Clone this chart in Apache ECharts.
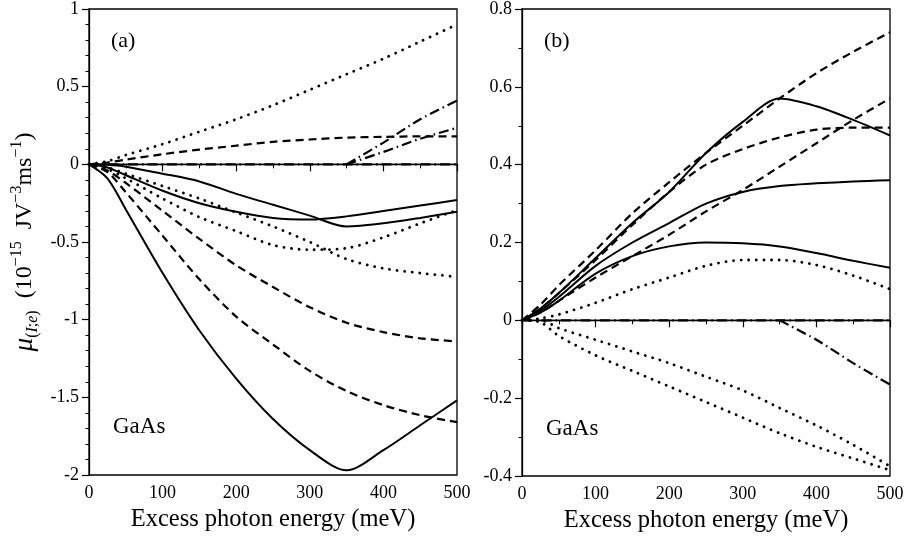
<!DOCTYPE html>
<html>
<head>
<meta charset="utf-8">
<script src="https://cdn.jsdelivr.net/npm/echarts@6/dist/echarts.min.js"></script>
<style>html,body{margin:0;padding:0;background:#fff}#c{width:907px;height:538px}</style>
</head>
<body>
<div id="c"></div>
<script>
// Excess photon energy (meV)
const energy = [0, 25, 50, 100, 150, 200, 250, 300, 350, 400, 450, 500];
const xTicks = [0, 100, 200, 300, 400, 500];
const yTicksA = [-2, -1.5, -1, -0.5, 0, 0.5, 1];
const yTicksB = [-0.4, -0.2, 0, 0.2, 0.4, 0.6, 0.8];

// Panel (a)
const aDotUp    = [0, 0.02, 0.06, 0.13, 0.21, 0.29, 0.38, 0.48, 0.58, 0.68, 0.79, 0.90];
const aDashUp   = [0, 0.012, 0.03, 0.065, 0.095, 0.12, 0.145, 0.16, 0.172, 0.177, 0.18, 0.18];
const aDashDot1 = [null, null, null, null, null, null, null, null, 0, 0.14, 0.29, 0.41];
const aDashDot2 = [null, null, null, null, null, null, null, null, 0, 0.08, 0.165, 0.235];
const aZero     = [0, 0, 0, 0, 0, 0, 0, 0, 0, 0, 0, 0];
const aSolid1   = [0, -0.003, -0.015, -0.06, -0.11, -0.19, -0.26, -0.33, -0.40, -0.38, -0.345, -0.305];
const aSolid2   = [0, -0.02, -0.07, -0.17, -0.25, -0.305, -0.345, -0.355, -0.335, -0.30, -0.265, -0.23];
const aDotP     = [0, -0.02, -0.06, -0.14, -0.22, -0.31, -0.40, -0.50, -0.61, -0.67, -0.70, -0.725];
const aDotQ     = [0, -0.03, -0.09, -0.22, -0.34, -0.43, -0.52, -0.55, -0.54, -0.47, -0.38, -0.295];
const aDash1    = [0, -0.04, -0.12, -0.30, -0.48, -0.65, -0.79, -0.92, -1.02, -1.08, -1.12, -1.14];
const aDash2    = [0, -0.05, -0.18, -0.46, -0.74, -0.98, -1.16, -1.33, -1.46, -1.55, -1.615, -1.66];
const aSolidBig = [0, -0.09, -0.29, -0.70, -1.07, -1.38, -1.64, -1.84, -1.97, -1.84, -1.68, -1.52];

// Panel (b)
const bDashTop   = [0, 0.04, 0.09, 0.18, 0.275, 0.355, 0.43, 0.50, 0.57, 0.635, 0.69, 0.74];
const bSolidPeak = [0, 0.03, 0.07, 0.16, 0.25, 0.33, 0.43, 0.51, 0.57, 0.55, 0.515, 0.475];
const bDashMid   = [0, 0.03, 0.07, 0.155, 0.245, 0.33, 0.40, 0.44, 0.47, 0.49, 0.495, 0.495];
const bDashLow   = [0, 0.02, 0.05, 0.11, 0.165, 0.22, 0.28, 0.335, 0.395, 0.455, 0.515, 0.57];
const bSolidFlat = [0, 0.025, 0.06, 0.14, 0.20, 0.25, 0.30, 0.33, 0.345, 0.352, 0.357, 0.36];
const bSolidLow  = [0, 0.02, 0.05, 0.12, 0.165, 0.19, 0.20, 0.198, 0.19, 0.173, 0.153, 0.135];
const bDot       = [0, 0.005, 0.015, 0.045, 0.08, 0.11, 0.14, 0.155, 0.155, 0.142, 0.115, 0.08];
const bZero      = [0, 0, 0, 0, 0, 0, 0, 0, 0, 0, 0, 0];
const bDashDot   = [null, null, null, null, null, null, null, null, 0, -0.05, -0.11, -0.165];
const bDotNeg1   = [0, 0, -0.02, -0.05, -0.08, -0.11, -0.145, -0.18, -0.225, -0.27, -0.32, -0.375];
const bDotNeg2   = [0, -0.005, -0.04, -0.09, -0.13, -0.17, -0.21, -0.25, -0.29, -0.325, -0.355, -0.385];

const FONT = 'Liberation Serif';
const STY = {
  solid:   { type: 'solid', width: 2 },
  thin:    { type: 'solid', width: 1.2 },
  dash:    { type: [8, 5], width: 2.2 },
  dot:     { type: [0.1, 7.5], width: 2.8, cap: 'round' },
  dashdot: { type: [10, 4, 1.5, 4], width: 2.2 }
};
function pts(ys) { return energy.map((x, i) => [x, ys[i] === null ? '-' : ys[i]]); }
function line(ys, style, idx) {
  return {
    type: 'line', xAxisIndex: idx, yAxisIndex: idx, data: pts(ys),
    symbol: 'none', smooth: 0.3, silent: true,
    lineStyle: Object.assign({ color: '#000' }, STY[style])
  };
}

function xAxisDef(idx) {
  return {
    gridIndex: idx, type: 'value', min: 0, max: 500, interval: 100,
    name: 'Excess photon energy (meV)', nameLocation: 'middle', nameGap: 25,
    nameTextStyle: { fontFamily: FONT, fontSize: 24.5, color: '#000' },
    axisLine: { lineStyle: { color: '#000', width: 1.3 } },
    axisTick: { inside: false, length: 7, lineStyle: { color: '#000', width: 1.2 } },
    minorTick: { show: true, splitNumber: 2, length: 4, lineStyle: { color: '#000', width: 1 } },
    splitLine: { show: false },
    axisLabel: { fontFamily: FONT, fontSize: 18, color: '#000', margin: 9,
      formatter: v => (xTicks.indexOf(v) >= 0 ? String(v) : '') }
  };
}
function yAxisDef(idx, min, max, interval, minorSplit, ticks) {
  return {
    gridIndex: idx, type: 'value', min: min, max: max, interval: interval,
    axisLine: { onZero: false, lineStyle: { color: '#000', width: 1.3 } },
    axisTick: { inside: false, length: 7, lineStyle: { color: '#000', width: 1.2 } },
    minorTick: { show: true, splitNumber: minorSplit, length: 3.5, lineStyle: { color: '#000', width: 1 } },
    splitLine: { show: false },
    axisLabel: { fontFamily: FONT, fontSize: 18, color: '#000', margin: 10,
      formatter: v => { const t = ticks.find(k => Math.abs(k - v) < 1e-9); return t === undefined ? '' : String(t); } }
  };
}

const yA = yAxisDef(0, -2, 1, 0.5, 5, yTicksA);
yA.name = '{mu|μ}{sub|(}{subi|I}{sub|;}{subi|e}{sub|)}{n|  (10}{sup|−15}{n|  JV}{sup|−3}{n|ms}{sup|−1}{n|)}';
yA.nameLocation = 'middle';
yA.nameRotate = 90;
yA.nameGap = 48;
yA.nameTextStyle = {
  fontFamily: FONT, color: '#000',
  rich: {
    mu:  { fontFamily: FONT, fontSize: 27, fontStyle: 'italic', lineHeight: 32, color: '#000' },
    n:   { fontFamily: FONT, fontSize: 24, lineHeight: 32, color: '#000' },
    sub: { fontFamily: FONT, fontSize: 16, lineHeight: 32, verticalAlign: 'bottom', color: '#000', padding: [9, 0, 0, 0] },
    subi:{ fontFamily: FONT, fontSize: 16, fontStyle: 'italic', lineHeight: 32, verticalAlign: 'bottom', color: '#000', padding: [9, 0, 0, 0] },
    sup: { fontFamily: FONT, fontSize: 16, lineHeight: 16, verticalAlign: 'top', color: '#000' }
  }
};
const yB = yAxisDef(1, -0.4, 0.8, 0.2, 2, yTicksB);

const option = {
  animation: false,
  backgroundColor: '#fff',
  grid: [
    { left: 89, top: 8, width: 368, height: 467, show: true, borderColor: '#000', borderWidth: 1.3 },
    { left: 522, top: 8, width: 368, height: 468, show: true, borderColor: '#000', borderWidth: 1.3 }
  ],
  xAxis: [xAxisDef(0), xAxisDef(1)],
  yAxis: [yA, yB],
  graphic: [
    { type: 'text', left: 111, top: 30, style: { text: '(a)', font: '22px "Liberation Serif"', fill: '#000' } },
    { type: 'text', left: 544, top: 30, style: { text: '(b)', font: '22px "Liberation Serif"', fill: '#000' } },
    { type: 'text', left: 113, top: 415, style: { text: 'GaAs', font: '23px "Liberation Serif"', fill: '#000' } },
    { type: 'text', left: 546, top: 417, style: { text: 'GaAs', font: '23px "Liberation Serif"', fill: '#000' } }
  ],
  series: [
    line(aZero, 'thin', 0),
    line(aZero, 'dashdot', 0),
    line(aDotUp, 'dot', 0),
    line(aDashUp, 'dash', 0),
    line(aDashDot1, 'dashdot', 0),
    line(aDashDot2, 'dashdot', 0),
    line(aSolid1, 'solid', 0),
    line(aSolid2, 'solid', 0),
    line(aDotP, 'dot', 0),
    line(aDotQ, 'dot', 0),
    line(aDash1, 'dash', 0),
    line(aDash2, 'dash', 0),
    line(aSolidBig, 'solid', 0),

    line(bZero, 'thin', 1),
    line(bZero, 'dashdot', 1),
    line(bDashTop, 'dash', 1),
    line(bSolidPeak, 'solid', 1),
    line(bDashMid, 'dash', 1),
    line(bDashLow, 'dash', 1),
    line(bSolidFlat, 'solid', 1),
    line(bSolidLow, 'solid', 1),
    line(bDot, 'dot', 1),
    line(bDashDot, 'dashdot', 1),
    line(bDotNeg1, 'dot', 1),
    line(bDotNeg2, 'dot', 1)
  ]
};
echarts.init(document.getElementById('c'), null, { renderer: 'canvas' }).setOption(option);
</script>
</body>
</html>
